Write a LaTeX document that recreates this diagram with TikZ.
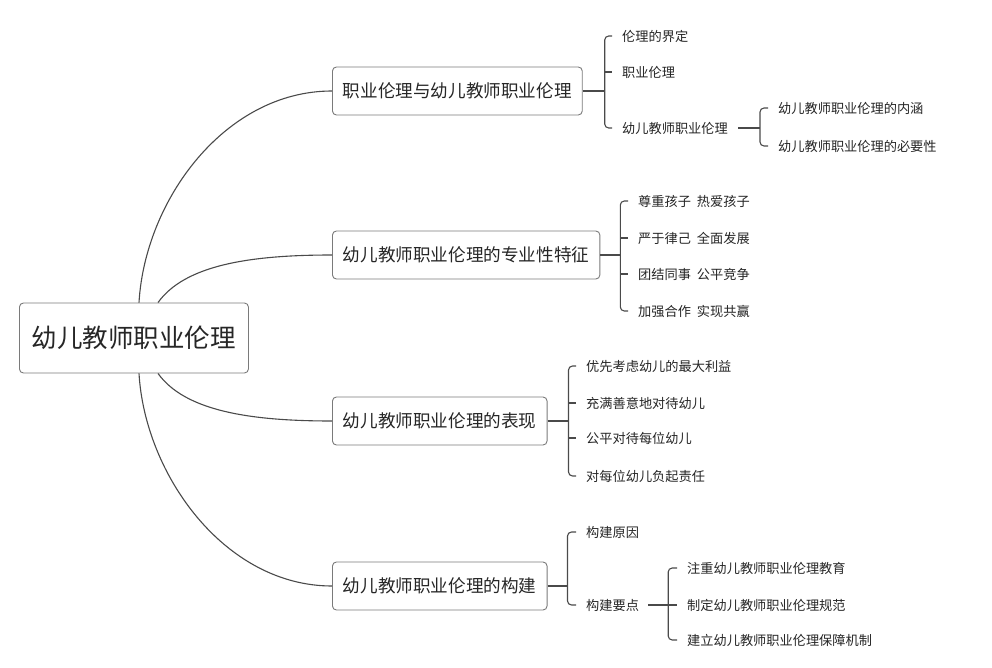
\documentclass[tikz,border=0pt]{standalone}
\usepackage{fontspec}
\setmainfont{Noto Sans CJK SC}
\usetikzlibrary{calc}
\definecolor{txt}{HTML}{262626}
\definecolor{ln}{HTML}{4A4A4A}
\definecolor{bd}{HTML}{7A7A7A}
\newcommand{\gapsp}{\hspace{0.45em}}
\begin{document}
\begin{tikzpicture}[x=1pt,y=-1pt,
  rootbox/.style={draw=bd, line width=0.9pt, rounded corners=4pt, fill=white, text=txt,
    font=\fontsize{25.5}{30}\selectfont, minimum height=70pt, inner xsep=12.5pt, anchor=west},
  topic/.style={draw=bd, line width=0.9pt, rounded corners=4pt, fill=white, text=txt,
    font=\fontsize{17.6}{21}\selectfont, minimum height=48pt, inner xsep=10.5pt, anchor=west},
  leaf/.style={font=\fontsize{13.2}{16}\selectfont, text=txt, inner sep=0pt, anchor=west},
  conn/.style={draw=ln, line width=1.1pt},
  brk/.style={conn, rounded corners=4pt}]
\useasboundingbox (0,0) rectangle (992,668);
\fill[white] (0,0) rectangle (992,668);

% main nodes
\node[rootbox] (r) at (19,338) {幼儿教师职业伦理};
\node[topic] (t1) at (332,91) {职业伦理与幼儿教师职业伦理};
\node[topic] (t2) at (332,255) {幼儿教师职业伦理的专业性特征};
\node[topic] (t3) at (332,421) {幼儿教师职业伦理的表现};
\node[topic] (t4) at (332,586) {幼儿教师职业伦理的构建};

% curves from root
\draw[conn] ($(r.north west)+(120,0)$) .. controls (145,200) and (225,91) .. (t1.west);
\draw[conn] ($(r.north west)+(139,0)$) .. controls (185,265) and (250,255) .. (t2.west);
\draw[conn] ($(r.south west)+(139,0)$) .. controls (185,411) and (250,421) .. (t3.west);
\draw[conn] ($(r.south west)+(120,0)$) .. controls (145,475) and (225,586) .. (t4.west);

% branch 1
\node[leaf] (a11) at (622,36) {伦理的界定};
\node[leaf] (a12) at (622,72) {职业伦理};
\node[leaf] (a13) at (622,128) {幼儿教师职业伦理};
\node[leaf] (b11) at (778,108) {幼儿教师职业伦理的内涵};
\node[leaf] (b12) at (778,146) {幼儿教师职业伦理的必要性};
\coordinate (k1) at ($(t1.east)+(22,0)$);
\draw[conn] (t1.east) -- (k1);
\draw[brk] ($(a11.west)+(-10,0)$) -| (k1) |- ($(a13.west)+(-10,0)$);
\draw[conn] (k1 |- a12.west) -- ($(a12.west)+(-10,0)$);
\coordinate (k13) at ($(a13.east)+(32,0)$);
\draw[conn] ($(a13.east)+(10,0)$) -- (k13);
\draw[brk] ($(b11.west)+(-10,0)$) -| (k13) |- ($(b12.west)+(-10,0)$);

% branch 2
\node[leaf] (a21) at (638,201) {尊重孩子\gapsp 热爱孩子};
\node[leaf] (a22) at (638,238) {严于律己\gapsp 全面发展};
\node[leaf] (a23) at (638,274) {团结同事\gapsp 公平竞争};
\node[leaf] (a24) at (638,311) {加强合作\gapsp 实现共赢};
\coordinate (k2) at ($(t2.east)+(20,0)$);
\draw[conn] (t2.east) -- (k2);
\draw[brk] ($(a21.west)+(-10,0)$) -| (k2) |- ($(a24.west)+(-10,0)$);
\draw[conn] (k2 |- a22.west) -- ($(a22.west)+(-10,0)$);
\draw[conn] (k2 |- a23.west) -- ($(a23.west)+(-10,0)$);

% branch 3
\node[leaf] (a31) at (586,366) {优先考虑幼儿的最大利益};
\node[leaf] (a32) at (586,403) {充满善意地对待幼儿};
\node[leaf] (a33) at (586,438) {公平对待每位幼儿};
\node[leaf] (a34) at (586,476) {对每位幼儿负起责任};
\coordinate (k3) at ($(t3.east)+(21,0)$);
\draw[conn] (t3.east) -- (k3);
\draw[brk] ($(a31.west)+(-10,0)$) -| (k3) |- ($(a34.west)+(-10,0)$);
\draw[conn] (k3 |- a32.west) -- ($(a32.west)+(-10,0)$);
\draw[conn] (k3 |- a33.west) -- ($(a33.west)+(-10,0)$);

% branch 4
\node[leaf] (a41) at (586,532) {构建原因};
\node[leaf] (a42) at (586,605) {构建要点};
\node[leaf] (b41) at (687,568) {注重幼儿教师职业伦理教育};
\node[leaf] (b42) at (687,605) {制定幼儿教师职业伦理规范};
\node[leaf] (b43) at (687,640) {建立幼儿教师职业伦理保障机制};
\coordinate (k4) at ($(t4.east)+(20,0)$);
\draw[conn] (t4.east) -- (k4);
\draw[brk] ($(a41.west)+(-10,0)$) -| (k4) |- ($(a42.west)+(-10,0)$);
\coordinate (k42) at ($(a42.east)+(29,0)$);
\draw[conn] ($(a42.east)+(9,0)$) -- (k42);
\draw[brk] ($(b41.west)+(-10,0)$) -| (k42) |- ($(b43.west)+(-10,0)$);
\draw[conn] (k42 |- b42.west) -- ($(b42.west)+(-10,0)$);
\end{tikzpicture}
\end{document}
